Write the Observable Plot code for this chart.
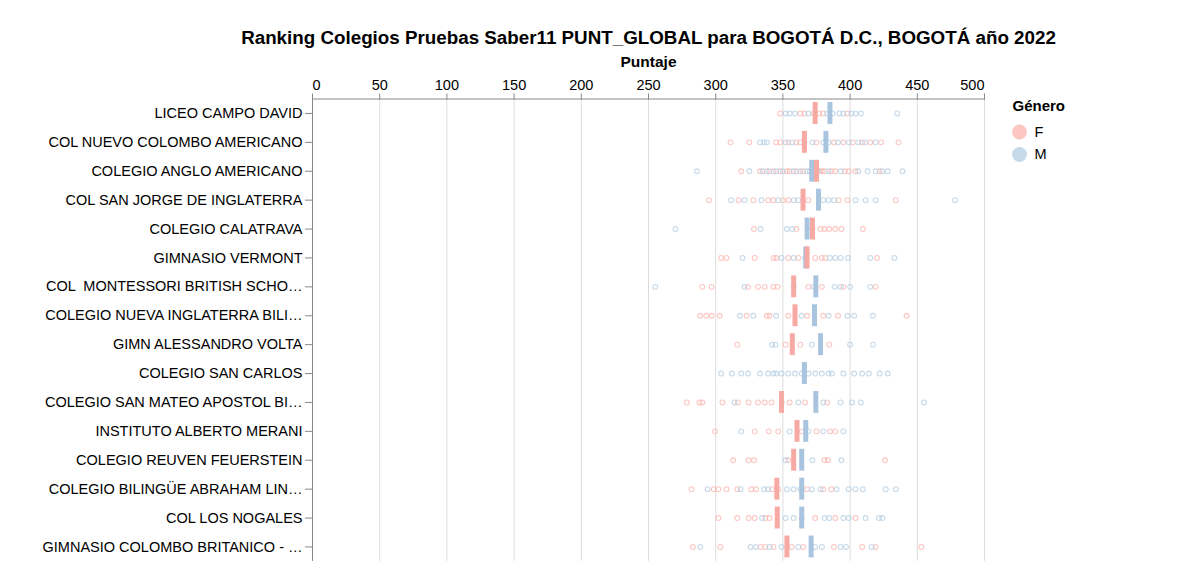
<!DOCTYPE html>
<html><head><meta charset="utf-8">
<script src="https://cdn.jsdelivr.net/npm/d3@7"></script>
<script src="https://cdn.jsdelivr.net/npm/@observablehq/plot@0.6"></script>
<style>
body{margin:0;background:#fff;}
svg text{white-space:pre;}
</style></head><body><div id="chart"></div>
<script>
const title = "Ranking Colegios Pruebas Saber11 PUNT_GLOBAL para BOGOTÁ D.C., BOGOTÁ año 2022";
const xLabel = "Puntaje";
const legendTitle = "Género";
const genders = ["F", "M"];
const xTicks = [0, 50, 100, 150, 200, 250, 300, 350, 400, 450, 500];

const schools = [
  "LICEO CAMPO DAVID",
  "COL NUEVO COLOMBO AMERICANO",
  "COLEGIO ANGLO AMERICANO",
  "COL SAN JORGE DE INGLATERRA",
  "COLEGIO CALATRAVA",
  "GIMNASIO VERMONT",
  "COL  MONTESSORI BRITISH SCHO…",
  "COLEGIO NUEVA INGLATERRA BILI…",
  "GIMN ALESSANDRO VOLTA",
  "COLEGIO SAN CARLOS",
  "COLEGIO SAN MATEO APOSTOL BI…",
  "INSTITUTO ALBERTO MERANI",
  "COLEGIO REUVEN FEUERSTEIN",
  "COLEGIO BILINGÜE ABRAHAM LIN…",
  "COL LOS NOGALES",
  "GIMNASIO COLOMBO BRITANICO - …"
];

const meanF = [374, 366, 375, 365, 372, 368, 358, 359, 357, null, 349, 360.5, 358, 345.5, 345.8, 353];
const meanM = [385, 382, 371.5, 376.5, 368, 367, 374.5, 373.5, 378, 366, 374.5, 367, 364, 364, 364, 371];

const scoresF = [
  [348, 363, 366, 373, 377, 380, 398],
  [311, 325, 345, 348, 354, 360, 363, 375, 388, 395, 402, 409, 415, 423, 436],
  [319, 333, 338, 343, 348, 353, 355, 360, 365, 372, 377, 379, 381, 386, 389, 396, 399, 404, 422],
  [295, 317, 328, 339, 343, 350, 354, 369, 391.5, 398, 434],
  [328.5, 360, 378, 381, 384.5, 389, 393.5, 409.5],
  [304, 308, 329, 343, 345, 354, 361.5, 374, 379, 381.5, 420],
  [290, 297, 324, 331.5, 336.5, 343, 346, 369, 379, 395, 419],
  [288.5, 293, 297, 303, 323, 338, 340, 354, 368, 380, 391, 442],
  [316, 352, 363, 384.5],
  [],
  [278.5, 288, 290, 305, 316.5, 324.5, 331.5, 336.5, 341.5, 355, 366.5, 383],
  [299.5, 329, 339.5, 346.5, 364, 375, 385, 389],
  [313, 324.5, 328.5, 354, 381, 383.5, 426],
  [282, 298.5, 302, 308, 316, 326.5, 330, 342, 346.5, 368, 380, 386],
  [302, 316, 324.5, 329, 337, 340, 364, 374, 389, 404],
  [283, 303.5, 333.5, 337, 343, 356.5, 365, 388, 409, 419, 453]
];

const scoresM = [
  [352, 355, 359, 369, 383, 387, 392, 395, 401, 404, 408, 435],
  [333, 336, 338, 352, 357, 366, 372, 380, 384, 391, 399, 406, 411, 419],
  [286, 325, 335, 340, 345, 350, 358, 363, 368, 370, 376, 384, 393, 406, 413, 419, 424, 428, 439],
  [311.5, 321.5, 334, 346.5, 358, 361.5, 380, 384, 388, 404, 411.5, 419, 478],
  [270, 333.5, 353, 357, 372],
  [320, 349, 358, 366.5, 385, 389, 393, 398.5, 415, 433],
  [255, 321.5, 358, 373, 388.5, 393, 400, 415],
  [318, 328, 345, 364, 384, 398, 403, 417],
  [342, 344.5, 371.5, 400, 417],
  [304, 312, 319, 324, 333, 339, 343, 345, 349, 354, 359, 364, 369, 374, 379, 384, 386.5, 395, 403, 409, 414, 422, 428],
  [314, 349, 361.5, 380, 393, 401.5, 408, 455],
  [319, 355, 369, 380, 395],
  [352, 372, 393.5],
  [294, 318.5, 336, 339, 353, 358, 363, 371.5, 378, 390, 399, 404, 409.5, 426.5, 434],
  [334.5, 352, 358, 381, 384.5, 395, 399, 411.5, 421.5, 424],
  [288.5, 326, 330, 340, 349, 361.5, 374, 379, 393, 397, 416]
];

const dotColor = {F: "#fbb4ae", M: "#b3cde3"};
const tickColor = {F: "#f7a9a3", M: "#a9c4df"};

const dotsF = schools.flatMap((s, i) => scoresF[i].map(v => ({school: s, score: v})));
const dotsM = schools.flatMap((s, i) => scoresM[i].map(v => ({school: s, score: v})));
const ticksF = schools.map((s, i) => ({school: s, score: meanF[i]})).filter(d => d.score != null);
const ticksM = schools.map((s, i) => ({school: s, score: meanM[i]})).filter(d => d.score != null);

const step = 28.9;
const mTop = 98.5;
const H = 565;
const axisOpts = {anchor: "top", tickSize: 6, tickPadding: 3, stroke: "#888", fill: "#000", fontSize: 14.5, label: null};

const plot = Plot.plot({
  width: 1200,
  height: H,
  marginLeft: 312,
  marginRight: 216,
  marginTop: mTop,
  marginBottom: H - mTop - schools.length * step,
  style: {fontFamily: "'Liberation Sans', Arial, Helvetica, sans-serif", fontSize: "14.5px", color: "#000", background: "#fff"},
  x: {domain: [0, 500]},
  y: {domain: schools, padding: 0, round: false},
  marks: [
    Plot.gridX(xTicks, {stroke: "#ddd", strokeOpacity: 1}),
    Plot.ruleX([0], {stroke: "#888"}),
    Plot.frame({anchor: "top", stroke: "#888"}),
    Plot.axisX([0], {...axisOpts, textAnchor: "start"}),
    Plot.axisX(xTicks.slice(1, -1), axisOpts),
    Plot.axisX([500], {...axisOpts, textAnchor: "end"}),
    Plot.axisY({anchor: "left", tickSize: 7, tickPadding: 3, stroke: "#888", fill: "#000", fontSize: 14.5, label: null}),
    Plot.dot(dotsF, {x: "score", y: "school", r: 2.4, stroke: dotColor.F, strokeWidth: 1.1, strokeOpacity: 0.75, fill: "none"}),
    Plot.dot(dotsM, {x: "score", y: "school", r: 2.4, stroke: dotColor.M, strokeWidth: 1.1, strokeOpacity: 0.75, fill: "none"}),
    Plot.tickX(ticksM, {x: "score", y: "school", stroke: tickColor.M, strokeWidth: 5, insetTop: 3.5, insetBottom: 3.5}),
    Plot.tickX(ticksF, {x: "score", y: "school", stroke: tickColor.F, strokeWidth: 5, insetTop: 3.5, insetBottom: 3.5}),
    Plot.text([xLabel], {text: d => d, frameAnchor: "top", lineAnchor: "middle", dy: -37, fontWeight: "bold", fontSize: 15.5}),
    Plot.text([title], {text: d => d, frameAnchor: "top", lineAnchor: "middle", dy: -61.5, fontWeight: "bold", fontSize: 18.8}),
    Plot.text([legendTitle], {text: d => d, frameAnchor: "top-right", lineAnchor: "middle", dx: 28, dy: 7.5, textAnchor: "start", fontWeight: "bold", fontSize: 15}),
    Plot.dot([genders[0]], {frameAnchor: "top-right", dx: 35, dy: 33, r: 7.5, fill: dotColor.F, fillOpacity: 0.75}),
    Plot.dot([genders[1]], {frameAnchor: "top-right", dx: 35, dy: 55.5, r: 7.5, fill: dotColor.M, fillOpacity: 0.75}),
    Plot.text([genders[0]], {text: d => d, frameAnchor: "top-right", lineAnchor: "middle", dx: 50, dy: 33, textAnchor: "start", fontSize: 14.5}),
    Plot.text([genders[1]], {text: d => d, frameAnchor: "top-right", lineAnchor: "middle", dx: 50, dy: 55.5, textAnchor: "start", fontSize: 14.5})
  ]
});
document.getElementById("chart").append(plot);
</script>
</body></html>
